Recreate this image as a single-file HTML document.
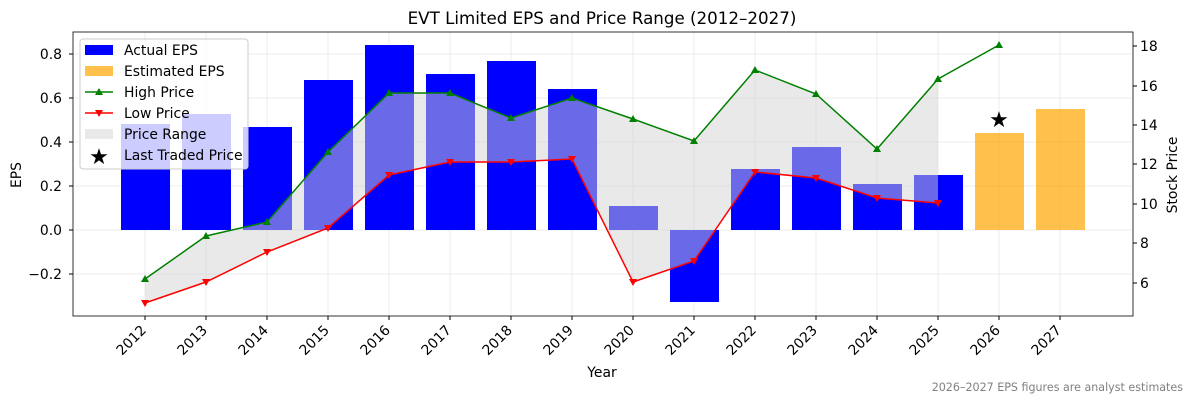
<!DOCTYPE html>
<html><head><meta charset="utf-8"><style>
body{margin:0;background:#fff;}
svg{font-family:"DejaVu Sans","Liberation Sans",sans-serif;}
</style></head><body>
<svg width="1193" height="403" xmlns="http://www.w3.org/2000/svg">
<rect width="1193" height="403" fill="#fff"/>
<g stroke="#b0b0b0" stroke-opacity="0.3" stroke-width="0.8">
<line x1="73" x2="1133" y1="54" y2="54"/><line x1="73" x2="1133" y1="98" y2="98"/><line x1="73" x2="1133" y1="142" y2="142"/><line x1="73" x2="1133" y1="186" y2="186"/><line x1="73" x2="1133" y1="230" y2="230"/><line x1="73" x2="1133" y1="274" y2="274"/>
<line x1="145" x2="145" y1="32" y2="316"/><line x1="206" x2="206" y1="32" y2="316"/><line x1="267" x2="267" y1="32" y2="316"/><line x1="328" x2="328" y1="32" y2="316"/><line x1="389" x2="389" y1="32" y2="316"/><line x1="450" x2="450" y1="32" y2="316"/><line x1="511" x2="511" y1="32" y2="316"/><line x1="572" x2="572" y1="32" y2="316"/><line x1="633" x2="633" y1="32" y2="316"/><line x1="694" x2="694" y1="32" y2="316"/><line x1="755" x2="755" y1="32" y2="316"/><line x1="816" x2="816" y1="32" y2="316"/><line x1="877" x2="877" y1="32" y2="316"/><line x1="938" x2="938" y1="32" y2="316"/><line x1="999" x2="999" y1="32" y2="316"/><line x1="1060" x2="1060" y1="32" y2="316"/>
</g>
<g fill="#0000ff">
<rect x="121" y="124" width="49" height="106"/><rect x="182" y="114" width="49" height="116"/><rect x="243" y="127" width="49" height="103"/><rect x="304" y="80" width="49" height="150"/><rect x="365" y="45" width="49" height="185"/><rect x="426" y="74" width="49" height="156"/><rect x="487" y="61" width="49" height="169"/><rect x="548" y="89" width="49" height="141"/><rect x="609" y="206" width="49" height="24"/><rect x="670" y="230" width="49" height="72"/><rect x="731" y="169" width="49" height="61"/><rect x="792" y="147" width="49" height="83"/><rect x="853" y="184" width="49" height="46"/><rect x="914" y="175" width="49" height="55"/>
</g>
<g fill="#ffa500" fill-opacity="0.7"><rect x="975" y="133" width="49" height="97"/><rect x="1036" y="109" width="49" height="121"/></g>
<polygon fill="#d3d3d3" fill-opacity="0.5" points="145,279 206,236 267,222 328,152 389,93 450,93 511,118 572,98 633,119 694,141 755,70 816,94 877,149 938,79 938,203 877,198 816,178 755,172 694,261 633,282 572,159 511,162 450,162 389,175 328,228 267,252 206,282 145,303"/>
<polyline fill="none" stroke="#008000" stroke-width="1.5" points="145,279 206,236 267,222 328,152 389,93 450,93 511,118 572,98 633,119 694,141 755,70 816,94 877,149 938,79 999,45"/>
<g fill="#008000">
<path d="M145,275l4,7h-8z"/><path d="M206,232l4,7h-8z"/><path d="M267,218l4,7h-8z"/><path d="M328,148l4,7h-8z"/><path d="M389,89l4,7h-8z"/><path d="M450,89l4,7h-8z"/><path d="M511,114l4,7h-8z"/><path d="M572,94l4,7h-8z"/><path d="M633,115l4,7h-8z"/><path d="M694,137l4,7h-8z"/><path d="M755,66l4,7h-8z"/><path d="M816,90l4,7h-8z"/><path d="M877,145l4,7h-8z"/><path d="M938,75l4,7h-8z"/><path d="M999,41l4,7h-8z"/>
</g>
<polyline fill="none" stroke="#ff0000" stroke-width="1.5" points="145,303 206,282 267,252 328,228 389,175 450,162 511,162 572,159 633,282 694,261 755,172 816,178 877,198 938,203"/>
<g fill="#ff0000">
<path d="M145,307l4,-7h-8z"/><path d="M206,286l4,-7h-8z"/><path d="M267,256l4,-7h-8z"/><path d="M328,232l4,-7h-8z"/><path d="M389,179l4,-7h-8z"/><path d="M450,166l4,-7h-8z"/><path d="M511,166l4,-7h-8z"/><path d="M572,163l4,-7h-8z"/><path d="M633,286l4,-7h-8z"/><path d="M694,265l4,-7h-8z"/><path d="M755,176l4,-7h-8z"/><path d="M816,182l4,-7h-8z"/><path d="M877,202l4,-7h-8z"/><path d="M938,207l4,-7h-8z"/>
</g>
<text x="999" y="127" font-size="22" text-anchor="middle" fill="#000">★</text>
<rect x="73" y="32" width="1060" height="284" fill="none" stroke="#000" stroke-width="0.8"/>
<g font-size="13.9" fill="#000">
<g text-anchor="end"><text x="62" y="59">0.8</text><text x="62" y="103">0.6</text><text x="62" y="147">0.4</text><text x="62" y="191">0.2</text><text x="62" y="235">0.0</text><text x="62" y="279">−0.2</text></g>
<g stroke="#000"><line x1="69" x2="73" y1="54" y2="54"/><line x1="69" x2="73" y1="98" y2="98"/><line x1="69" x2="73" y1="142" y2="142"/><line x1="69" x2="73" y1="186" y2="186"/><line x1="69" x2="73" y1="230" y2="230"/><line x1="69" x2="73" y1="274" y2="274"/>
<line x1="1133" x2="1137" y1="46" y2="46"/><line x1="1133" x2="1137" y1="86" y2="86"/><line x1="1133" x2="1137" y1="125" y2="125"/><line x1="1133" x2="1137" y1="164" y2="164"/><line x1="1133" x2="1137" y1="204" y2="204"/><line x1="1133" x2="1137" y1="243" y2="243"/><line x1="1133" x2="1137" y1="283" y2="283"/></g>
<text x="1140" y="51">18</text><text x="1140" y="91">16</text><text x="1140" y="130">14</text><text x="1140" y="169">12</text><text x="1140" y="209">10</text><text x="1140" y="248">8</text><text x="1140" y="288">6</text>
<g text-anchor="end">
<text transform="translate(147,331) rotate(-45)">2012</text><text transform="translate(208,331) rotate(-45)">2013</text><text transform="translate(269,331) rotate(-45)">2014</text><text transform="translate(330,331) rotate(-45)">2015</text><text transform="translate(391,331) rotate(-45)">2016</text><text transform="translate(452,331) rotate(-45)">2017</text><text transform="translate(513,331) rotate(-45)">2018</text><text transform="translate(574,331) rotate(-45)">2019</text><text transform="translate(635,331) rotate(-45)">2020</text><text transform="translate(696,331) rotate(-45)">2021</text><text transform="translate(757,331) rotate(-45)">2022</text><text transform="translate(818,331) rotate(-45)">2023</text><text transform="translate(879,331) rotate(-45)">2024</text><text transform="translate(940,331) rotate(-45)">2025</text><text transform="translate(1001,331) rotate(-45)">2026</text><text transform="translate(1062,331) rotate(-45)">2027</text>
</g>
<g stroke="#000"><line x1="145" x2="145" y1="316" y2="320"/><line x1="206" x2="206" y1="316" y2="320"/><line x1="267" x2="267" y1="316" y2="320"/><line x1="328" x2="328" y1="316" y2="320"/><line x1="389" x2="389" y1="316" y2="320"/><line x1="450" x2="450" y1="316" y2="320"/><line x1="511" x2="511" y1="316" y2="320"/><line x1="572" x2="572" y1="316" y2="320"/><line x1="633" x2="633" y1="316" y2="320"/><line x1="694" x2="694" y1="316" y2="320"/><line x1="755" x2="755" y1="316" y2="320"/><line x1="816" x2="816" y1="316" y2="320"/><line x1="877" x2="877" y1="316" y2="320"/><line x1="938" x2="938" y1="316" y2="320"/><line x1="999" x2="999" y1="316" y2="320"/><line x1="1060" x2="1060" y1="316" y2="320"/></g>
<text x="602" y="377" text-anchor="middle">Year</text>
<text transform="translate(21,175) rotate(-90)" text-anchor="middle">EPS</text>
<text transform="translate(1177,175) rotate(-90)" text-anchor="middle">Stock Price</text>
<text x="602" y="24" text-anchor="middle" font-size="16.7">EVT Limited EPS and Price Range (2012–2027)</text>
<text x="1183" y="391" text-anchor="end" font-size="11.1" fill="#808080">2026–2027 EPS figures are analyst estimates</text>
</g>
<rect x="80" y="39" width="168" height="130" rx="3" fill="#fff" fill-opacity="0.8" stroke="#ccc"/>
<g font-size="13.9" fill="#000">
<rect x="85" y="45" width="28" height="10" fill="#0000ff"/><text x="124" y="55">Actual EPS</text>
<rect x="85" y="66" width="28" height="10" fill="#ffa500" fill-opacity="0.7"/><text x="124" y="76">Estimated EPS</text>
<line x1="85" x2="113" y1="92" y2="92" stroke="#008000" stroke-width="1.5"/><path d="M99,88l4,7h-8z" fill="#008000"/><text x="124" y="97">High Price</text>
<line x1="85" x2="113" y1="113" y2="113" stroke="#ff0000" stroke-width="1.5"/><path d="M99,117l4,-7h-8z" fill="#ff0000"/><text x="124" y="118">Low Price</text>
<rect x="85" y="129" width="28" height="10" fill="#d3d3d3" fill-opacity="0.5"/><text x="124" y="139">Price Range</text>
<text x="99" y="164" font-size="22" text-anchor="middle">★</text><text x="124" y="160">Last Traded Price</text>
</g>
</svg>
</body></html>
